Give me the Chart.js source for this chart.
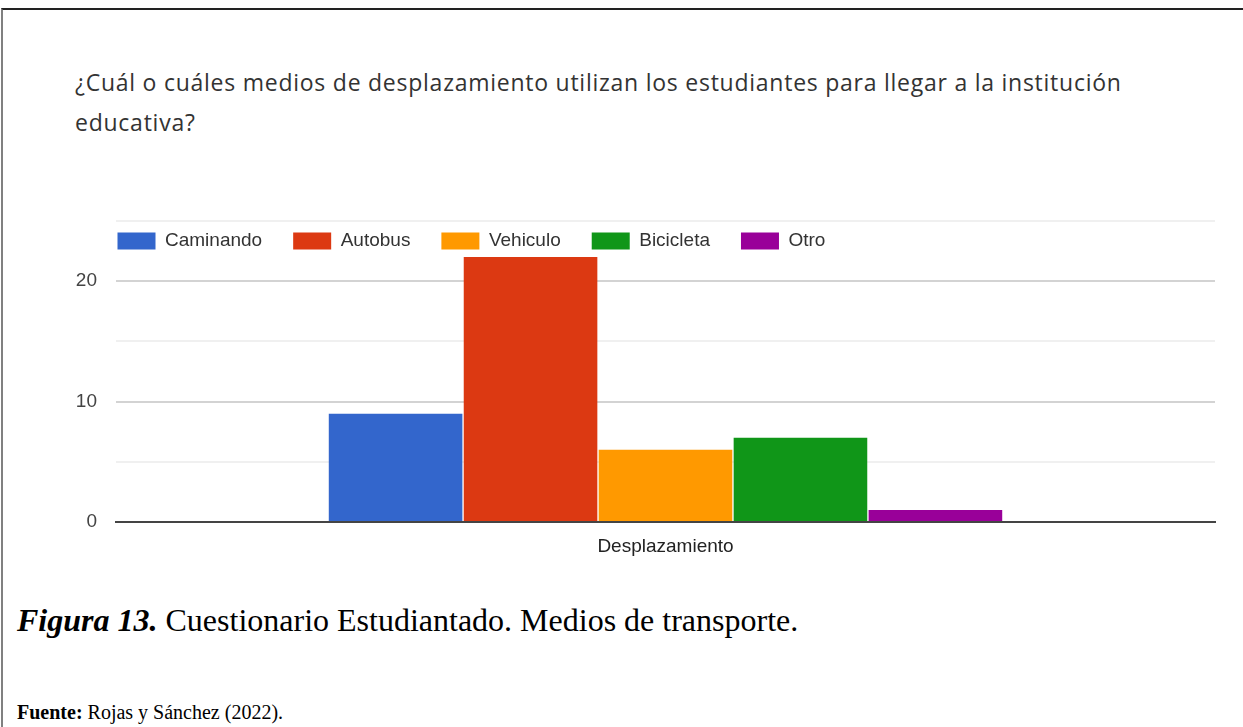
<!DOCTYPE html>
<html><head><meta charset="utf-8">
<script src="https://cdn.jsdelivr.net/npm/chart.js@4/dist/chart.umd.min.js"></script>
<style>
html,body{margin:0;padding:0;background:#fff;width:1243px;height:727px;overflow:hidden;position:relative;}
#frame{position:absolute;left:1px;top:8px;width:1242px;height:719px;border-top:2px solid #222;border-left:2px solid #808080;box-sizing:border-box;}
#title{position:absolute;left:75px;top:62px;font-family:'Open Sans',sans-serif;font-size:23px;letter-spacing:0.75px;line-height:40px;color:#333;white-space:nowrap;}
#wrap{position:absolute;left:0;top:200px;width:1243px;height:380px;}
#cap{position:absolute;left:17px;top:604px;font-family:'Liberation Serif','Times New Roman',serif;font-size:32px;line-height:32px;color:#000;white-space:nowrap;}
#src{position:absolute;left:17px;top:702px;font-family:'Liberation Serif','Times New Roman',serif;font-size:20px;line-height:20px;color:#000;white-space:nowrap;}
</style></head>
<body>
<div id="frame"></div>
<div id="title">¿Cuál o cuáles medios de desplazamiento utilizan los estudiantes para llegar a la institución<br>educativa?</div>
<div id="wrap"><canvas id="c"></canvas></div>
<div id="cap"><b><i>Figura 13.</i></b> Cuestionario Estudiantado. Medios de transporte.</div>
<div id="src"><b>Fuente:</b> Rojas y Sánchez (2022).</div>
<script>
const categories = ['Desplazamiento'];
const seriesNames = ['Caminando', 'Autobus', 'Vehiculo', 'Bicicleta', 'Otro'];
const caminando = [9];
const autobus = [22];
const vehiculo = [6];
const bicicleta = [7];
const otro = [1];
const seriesColors = ['#3366cc', '#dc3912', '#ff9900', '#109618', '#990099'];
const yTickLabels = [0, 10, 20];

const seriesValues = [caminando, autobus, vehiculo, bicicleta, otro];
const FONT = "'Liberation Sans', Arial, sans-serif";
const LEGEND_PAD = 31;

// Place the (horizontal) legend inside the top of the plot area, as in the original.
const legendInside = {
  id: 'legendInside',
  afterLayout(chart) {
    const lg = chart.legend;
    if (!lg) return;
    const w = lg.right - lg.left;
    lg.left = chart.chartArea.left + 1.5 - LEGEND_PAD;
    lg.right = lg.left + w;
    lg.top = chart.chartArea.top + 10.5 - LEGEND_PAD;
    lg.bottom = lg.top + LEGEND_PAD * 2 + 24;
    lg.height = lg.bottom - lg.top;
  }
};

new Chart(document.getElementById('c'), {
  type: 'bar',
  data: {
    labels: categories,
    datasets: seriesNames.map((n, i) => ({
      label: n,
      data: seriesValues[i],
      backgroundColor: seriesColors[i],
      borderWidth: 0,
      barPercentage: 0.99,
      categoryPercentage: 0.614
    }))
  },
  plugins: [legendInside],
  options: {
    responsive: true,
    maintainAspectRatio: false,
    animation: false,
    layout: { padding: { top: 20, right: 28, left: 0, bottom: 0 } },
    plugins: {
      tooltip: { enabled: false },
      title: { display: false },
      legend: {
        position: 'top',
        align: 'start',
        maxHeight: 1,
        labels: {
          boxWidth: 38,
          boxHeight: 17,
          padding: LEGEND_PAD,
          color: '#333',
          font: { family: FONT, size: 19 }
        }
      }
    },
    scales: {
      x: {
        grid: { display: false, drawTicks: false },
        border: { display: true, color: '#444', width: 2 },
        ticks: { color: '#222', padding: 13, font: { family: FONT, size: 19 } },
        afterFit(s) { s.height = 58; }
      },
      y: {
        min: 0, max: 25,
        border: { display: false },
        grid: {
          drawTicks: false,
          lineWidth: 2,
          color: (ctx) => {
            const v = ctx.tick ? ctx.tick.value : null;
            if (v === 0) return '#444';
            return yTickLabels.includes(v) ? '#d3d3d3' : '#f0f0f0';
          }
        },
        ticks: {
          stepSize: 5,
          padding: 19,
          color: '#444',
          font: { family: FONT, size: 19 },
          callback: (v) => yTickLabels.includes(v) ? String(v) : ''
        },
        afterFit(s) { s.width = 116; s.paddingTop = 0; s.paddingBottom = 0; }
      }
    }
  }
});
</script>
</body></html>
